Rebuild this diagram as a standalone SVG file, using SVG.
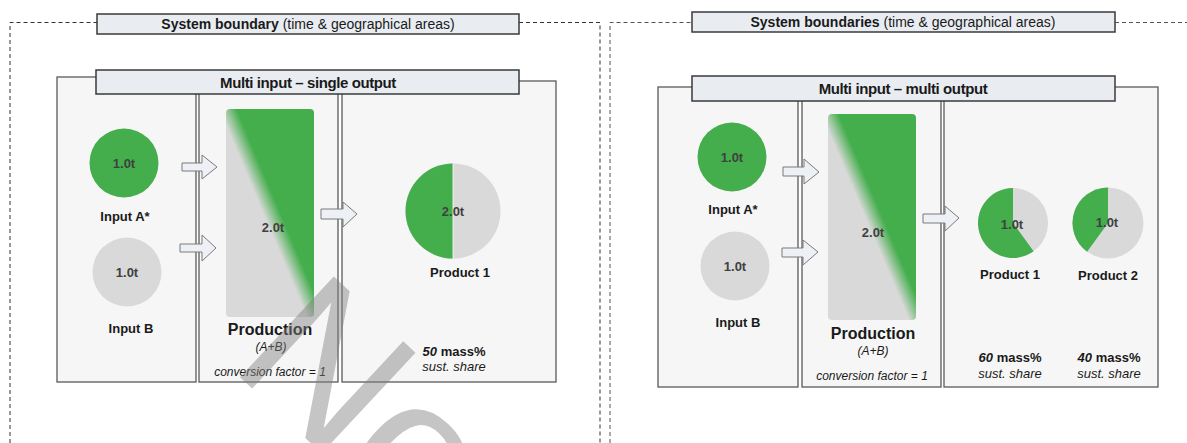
<svg xmlns="http://www.w3.org/2000/svg" width="1187" height="443" viewBox="0 0 1187 443">
<style>
text{font-family:"Liberation Sans",Arial,sans-serif;fill:#1a1a1a}
.b{stroke:#333;stroke-width:1;stroke-dasharray:4 3;fill:none}
.b2{stroke:#555;stroke-width:1;stroke-dasharray:4 3;fill:none}
.hdr{fill:#e9edf2;stroke:#3a3a3a;stroke-width:1.5}
.col{fill:#f6f6f6;stroke:#5a5a5a;stroke-width:1.3}
.arr{fill:#edf0f4;stroke:#7a7a7a;stroke-width:1}
.green{fill:#44ae4c}
.grey{fill:#d9d9d9}
.val{font-size:13px;font-weight:bold;fill:#404040;text-anchor:middle}
.lbl{font-size:13px;font-weight:bold;text-anchor:middle}
.prod{font-size:16px;font-weight:bold;text-anchor:middle}
.it{font-size:12px;font-style:italic;text-anchor:middle}
.ab{font-size:12px;font-style:italic;text-anchor:middle}
.ms{font-size:13px;font-weight:bold;text-anchor:middle}
.ss{font-size:13px;font-style:italic;text-anchor:middle}
.h{font-size:14px;text-anchor:middle}
.t{font-size:15px;font-weight:bold;text-anchor:middle;letter-spacing:-0.4px}
</style>
<defs>
<linearGradient id="pg" x1="0" y1="1" x2="1" y2="0">
<stop offset="0.46" stop-color="#d9d9d9"/>
<stop offset="0.56" stop-color="#44ae4c"/>
</linearGradient>
</defs>

<g id="boundaries">
<path class="b" d="M10,443 V22.5 H97 M519,22.5 H600 V443"/>
<path class="b2" d="M610,443 V22.5 H692 M1115,22.5 H1187"/>
</g>

<g id="left-panel">
<rect class="col" x="57" y="77" width="139" height="305"/>
<rect class="col" x="199" y="79" width="139" height="303"/>
<rect class="col" x="342" y="81" width="214" height="301"/>
</g>
<g id="left-system-label">
<rect class="hdr" x="97" y="14" width="422" height="20"/>
<text class="h" x="308" y="29"><tspan font-weight="bold">System boundary</tspan> (time &amp; geographical areas)</text>
</g>
<g id="left-title">
<rect class="hdr" x="96" y="70" width="423" height="24"/>
<text class="t" x="308" y="87.5">Multi input – single output</text>
</g>

<g id="L-inputA">
<circle class="green" cx="124" cy="163" r="34.5"/>
<text class="val" x="124" y="168">1.0t</text>
<text class="lbl" x="125" y="221">Input A*</text>
</g>
<g id="L-inputB">
<circle class="grey" cx="127" cy="272" r="34.5"/>
<text class="val" x="127" y="277">1.0t</text>
<text class="lbl" x="131" y="333">Input B</text>
</g>
<g id="L-production">
<rect x="226" y="109" width="88" height="208" rx="4" fill="url(#pg)"/>
<text class="val" x="273" y="232">2.0t</text>
<text class="prod" x="270" y="335">Production</text>
<text class="ab" x="271" y="351">(A+B)</text>
<text class="it" x="270" y="376">conversion factor = 1</text>
</g>
<g id="L-product1">
<circle class="grey" cx="453" cy="211" r="47.5"/>
<path class="green" d="M453,163.5 A47.5,47.5 0 0 0 453,258.5 Z"/>
<line x1="453" y1="163.5" x2="453" y2="258.5" stroke="#fff" stroke-width="0.8"/>
<text class="val" x="453" y="216">2.0t</text>
<text class="lbl" x="460" y="277">Product 1</text>
<text class="ms" x="454" y="356"><tspan font-style="italic">50</tspan> mass%</text>
<text class="ss" x="454" y="371">sust. share</text>
</g>

<g id="right-panel">
<rect class="col" x="658" y="87" width="140" height="300"/>
<rect class="col" x="802" y="87" width="139" height="300"/>
<rect class="col" x="944" y="87" width="214" height="300"/>
</g>
<g id="right-system-label">
<rect class="hdr" x="692" y="12" width="423" height="20"/>
<text class="h" x="903" y="27"><tspan font-weight="bold">System boundaries</tspan> (time &amp; geographical areas)</text>
</g>
<g id="right-title">
<rect class="hdr" x="692" y="76" width="423" height="25"/>
<text class="t" x="903" y="93.5">Multi input – multi output</text>
</g>

<g id="R-inputA">
<circle class="green" cx="732" cy="157" r="34.5"/>
<text class="val" x="732" y="162">1.0t</text>
<text class="lbl" x="733" y="214">Input A*</text>
</g>
<g id="R-inputB">
<circle class="grey" cx="735" cy="266" r="34.5"/>
<text class="val" x="735" y="271">1.0t</text>
<text class="lbl" x="738" y="327">Input B</text>
</g>
<g id="R-production">
<rect x="828" y="114" width="88" height="206" rx="4" fill="url(#pg)"/>
<text class="val" x="873" y="237">2.0t</text>
<text class="prod" x="873" y="339">Production</text>
<text class="ab" x="873" y="355">(A+B)</text>
<text class="it" x="872" y="380">conversion factor = 1</text>
</g>
<g id="R-product1">
<circle class="grey" cx="1013" cy="223" r="35"/>
<path class="green" d="M1013,223 L1013,188 A35,35 0 1 0 1033.6,251.3 Z"/>
<text class="val" x="1012" y="229">1.0t</text>
<text class="lbl" x="1010" y="279">Product 1</text>
<text class="ms" x="1010" y="362"><tspan font-style="italic">60</tspan> mass%</text>
<text class="ss" x="1010" y="378">sust. share</text>
</g>
<g id="R-product2">
<circle class="grey" cx="1108" cy="223" r="35.5"/>
<path class="green" d="M1108,223 L1108,187.5 A35.5,35.5 0 0 0 1087.1,251.7 Z"/>
<text class="val" x="1107" y="227">1.0t</text>
<text class="lbl" x="1108" y="280">Product 2</text>
<text class="ms" x="1109" y="362"><tspan font-style="italic">40</tspan> mass%</text>
<text class="ss" x="1109" y="378">sust. share</text>
</g>

<g id="connectors">
<polygon class="arr" points="182,163 202,163 202,155 217,167 202,179 202,171 182,171"/>
<polygon class="arr" points="180,244 202,244 202,235 216,248 202,261 202,252 180,252"/>
<polygon class="arr" points="321,209 343,209 343,202 357,214 343,227 343,219 321,219"/>
<polygon class="arr" points="783,167 804,167 804,159 819,172 804,184 804,176 783,176"/>
<polygon class="arr" points="782,248 803,248 803,240 818,252 803,265 803,257 782,257"/>
<polygon class="arr" points="923,214 945,214 945,206 959,218 945,231 945,223 923,223"/>
</g>

<g id="watermark">
<text x="228" y="366" transform="rotate(43 228 366)" font-size="200" style="fill:#7f7f7f" opacity="0.45">No</text>
</g>
</svg>
